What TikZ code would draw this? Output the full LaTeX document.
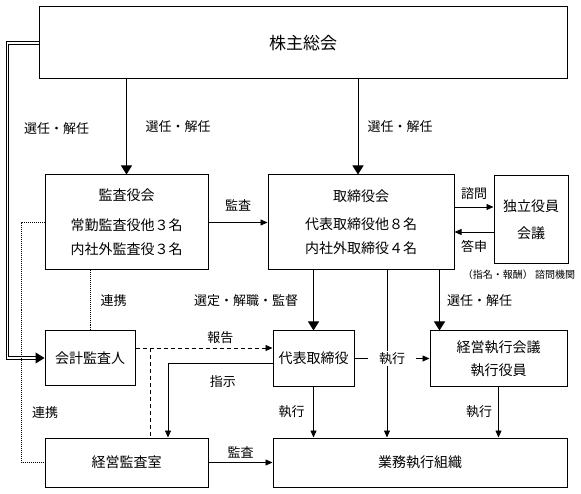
\documentclass[tikz,border=0pt]{standalone}
\usepackage{fontspec}
\setmainfont{Noto Sans CJK JP}
\usetikzlibrary{arrows.meta}

\begin{document}
\begin{tikzpicture}[x=1pt,y=-1pt,>={Triangle[width=6pt,length=7pt]},line width=0.8pt]
  \tikzset{box/.style={draw,line width=1pt,inner sep=0pt,align=center,font=\fontsize{14}{24}\selectfont},
    lbl/.style={inner sep=1pt,font=\fontsize{13}{15}\selectfont},
    dbl/.style={double,double distance=1.7pt,line width=1pt,-{Triangle[width=11pt,length=9pt]}},
    dotline/.style={densely dotted,line width=1pt},
    dashline/.style={dash pattern=on 4pt off 3pt}}
  \useasboundingbox (0,0) rectangle (581,494);
  \node[box,minimum width=528pt,minimum height=72pt,font=\fontsize{17}{20}\selectfont] (soukai) at (303,43) {株主総会};
  \node[box,minimum width=163pt,minimum height=95pt] (kansayaku) at (126.5,222.5) {監査役会\\[6pt]常勤監査役他３名\\内社外監査役３名};
  \node[box,minimum width=186pt,minimum height=95pt] (torishimari) at (361,222.5) {取締役会\\[4pt]代表取締役他８名\\内社外取締役４名};
  \node[box,minimum width=74pt,minimum height=88pt] (dokuritsu) at (531,220) {独立役員\\[3pt]会議};
  \node[font=\fontsize{10}{12}\selectfont,inner sep=0pt] (kikan) at (519,275) {（指名・報酬） 諮問機関};
  \node[box,minimum width=90pt,minimum height=54pt] (kaikei) at (90,358) {会計監査人};
  \node[box,minimum width=81pt,minimum height=55pt] (daihyo) at (313.5,358.5) {代表取締役};
  \node[box,minimum width=137pt,minimum height=55pt] (shikkou) at (498.5,358.5) {経営執行会議\\[-1pt]執行役員};
  \node[box,minimum width=294pt,minimum height=49pt] (gyoumu) at (420,462.5) {業務執行組織};
  \node[box,minimum width=163pt,minimum height=49pt] (keieikansa) at (126.5,462.5) {経営監査室};

  \coordinate (lft) at ([xshift=-31pt]soukai.west);
  \coordinate (dotl) at ([xshift=-23pt]kansayaku.west);
  \coordinate (rep) at ([xshift=15pt,yshift=10pt]kaikei.east);
  \coordinate (cmd) at ([xshift=41.5pt]keieikansa.north);
  \coordinate (exe) at ([xshift=26pt]torishimari.south);
  \coordinate (sel) at ([xshift=10pt]shikkou.north west);

  % shareholders
  \draw[dbl] (soukai.west) -- (lft) |- node[lbl,pos=0.136,right=15pt] {選任・解任} (kaikei.west);
  \path[dbl] (kansayaku.north |- soukai.south) edge node[lbl,right=17.5pt] {選任・解任} (kansayaku.north);
  \path[dbl] ([xshift=-3pt]torishimari.north |- soukai.south) edge node[lbl,right=8pt] {選任・解任} ([xshift=-3pt]torishimari.north);

  % audit
  \path[->] (kansayaku.east) edge node[lbl,above=10pt] {監査} (kansayaku.east -| torishimari.west);
  \path[->] ([yshift=13pt]dokuritsu.west -| torishimari.east) edge node[lbl,above=6pt] {諮問} ([yshift=13pt]dokuritsu.west);
  \path[->] ([yshift=-12pt]dokuritsu.west) edge node[lbl,below=7pt] {答申} ([yshift=-12pt]dokuritsu.west -| torishimari.east);
  \path[dotline] (kaikei.north |- kansayaku.south) edge node[lbl,right=9pt] {連携} (kaikei.north);
  \draw[dotline] (kansayaku.west) -- (dotl) |- node[lbl,pos=0.396,right=9pt] {連携} (keieikansa.west);
  \path[dashline,->] (rep -| kaikei.east) edge node[lbl,pos=0.62,above=2.5pt] {報告} (rep -| daihyo.west);
  \draw[dashline] (rep) -- (rep |- keieikansa.north);
  \draw[->] ([yshift=-5pt]daihyo.west) -| node[lbl,pos=0.238,below=11pt] {指示} (cmd);
  \path[->] (keieikansa.east) edge node[lbl,above=2.5pt] {監査} (keieikansa.east -| gyoumu.west);

  % board
  \path[dbl] (daihyo.north |- torishimari.south) edge node[lbl,left=14pt] {選定・解職・監督} (daihyo.north);
  \path[dbl] (sel |- torishimari.south) edge node[lbl,right=6pt] {選任・解任} (sel);
  \draw[->] (exe) -- (exe |- gyoumu.north);
  \path[->] (daihyo.east) edge node[lbl,fill=white,inner xsep=11pt] {執行} (daihyo.east -| shikkou.west);
  \path[->] (daihyo.south) edge node[lbl,left=7.5pt] {執行} (daihyo.south |- gyoumu.north);
  \path[->] (shikkou.south) edge node[lbl,left=5pt] {執行} (shikkou.south |- gyoumu.north);
\end{tikzpicture}
\end{document}
